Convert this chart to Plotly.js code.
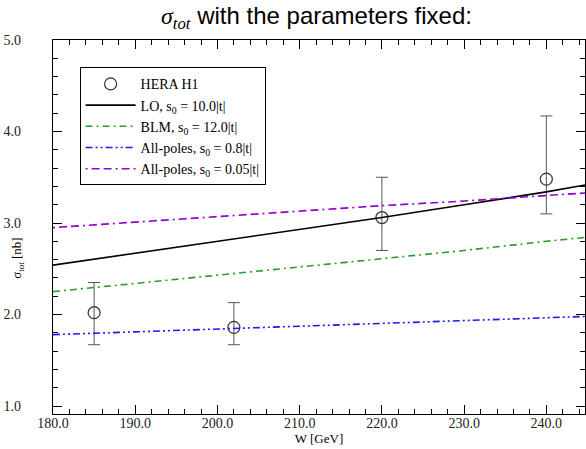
<!DOCTYPE html>
<html>
<head>
<meta charset="utf-8">
<script src="https://cdn.plot.ly/plotly-3.0.1.min.js"></script>
<style>
  html, body { margin: 0; padding: 0; background: #fff; }
  #chart { width: 586px; height: 449px; }
</style>
</head>
<body>
<div id="chart"></div>
<script>
// HERA H1 measurements of the total cross section
const dataW = [185.0, 202.0, 220.0, 240.0];
const dataSigma = [2.02, 1.86, 3.06, 3.48];
const dataErrPlus = [0.33, 0.27, 0.44, 0.69];
const dataErrMinus = [0.35, 0.19, 0.36, 0.38];

// Model curves evaluated on a W grid
const curveW = [180, 190, 200, 210, 220, 230, 240, 245];
const sigmaLO = [2.54, 2.67, 2.80, 2.93, 3.06, 3.20, 3.34, 3.42];
const sigmaBLM = [2.25, 2.34, 2.43, 2.52, 2.61, 2.70, 2.80, 2.845];
const sigmaPoles08 = [1.78, 1.81, 1.845, 1.875, 1.90, 1.93, 1.96, 1.98];
const sigmaPoles005 = [2.95, 3.01, 3.07, 3.13, 3.19, 3.24, 3.30, 3.33];

const seriesNames = [
  'HERA H1',
  'LO, s<sub>0</sub> = 10.0|t|',
  'BLM, s<sub>0</sub> = 12.0|t|',
  'All-poles, s<sub>0</sub> = 0.8|t|',
  'All-poles, s<sub>0</sub> = 0.05|t|'
];

const serif = 'Liberation Serif, Times New Roman, serif';

const traces = [
  {
    x: dataW, y: dataSigma, name: seriesNames[0], type: 'scatter', mode: 'markers',
    marker: { symbol: 'circle-open', size: 12, color: '#333', line: { width: 1.2, color: '#333' } },
    error_y: { type: 'data', symmetric: false, array: dataErrPlus, arrayminus: dataErrMinus,
               color: '#555', thickness: 1, width: 6 }
  },
  {
    x: curveW, y: sigmaLO, name: seriesNames[1], type: 'scatter', mode: 'lines',
    line: { color: '#000', width: 1.6 }
  },
  {
    x: curveW, y: sigmaBLM, name: seriesNames[2], type: 'scatter', mode: 'lines',
    line: { color: '#2e9a2e', width: 1.6, dash: '7px,4px,2px,4px' }
  },
  {
    x: curveW, y: sigmaPoles08, name: seriesNames[3], type: 'scatter', mode: 'lines',
    line: { color: '#1a1aff', width: 1.6, dash: '7px,3px,2px,3px,2px,3px' }
  },
  {
    x: curveW, y: sigmaPoles005, name: seriesNames[4], type: 'scatter', mode: 'lines',
    line: { color: '#9400d3', width: 1.6, dash: '2px,4px,8px,4px,8px,4px' }
  }
];

const axisCommon = {
  showgrid: false, zeroline: false, showline: true, linecolor: '#000', linewidth: 1.2,
  mirror: 'ticks', ticks: 'inside', ticklen: 9, tickwidth: 1, tickcolor: '#000',
  tickformat: '.1f', tickfont: { family: serif, size: 14, color: '#222' }
};

const layout = {
  width: 586, height: 449,
  margin: { l: 53, r: 1, t: 40, b: 35 },
  paper_bgcolor: '#fff', plot_bgcolor: '#fff',
  showlegend: true,
  title: {
    text: '<span style="font-family:Liberation Serif, serif"><i>σ</i><sub><i>tot</i></sub></span> with the parameters fixed:',
    font: { family: 'Liberation Sans, Arial, sans-serif', size: 24, color: '#000' },
    x: 0.54, xanchor: 'center', y: 0.965, yanchor: 'middle'
  },
  xaxis: Object.assign({}, axisCommon, {
    range: [180, 244.7], dtick: 10, tick0: 180,
    minor: { dtick: 2, ticks: 'inside', ticklen: 5, tickcolor: '#000' },
    ticklabelstandoff: -4,
    title: { text: 'W [GeV]', font: { family: serif, size: 13, color: '#000' }, standoff: 0 }
  }),
  yaxis: Object.assign({}, axisCommon, {
    range: [0.913, 5.0], dtick: 1, tick0: 1,
    minor: { dtick: 0.2, ticks: 'inside', ticklen: 5, tickcolor: '#000' },
    ticklabelstandoff: 28
  }),
  annotations: [{
    text: 'σ<sub>tot</sub> [nb]', textangle: -90, showarrow: false,
    xref: 'paper', yref: 'paper', x: -0.068, y: 0.417, xanchor: 'center', yanchor: 'middle',
    font: { family: serif, size: 13, color: '#000' }
  }],
  legend: {
    x: 0.05, xanchor: 'left', y: 0.927, yanchor: 'top',
    bgcolor: '#fff', bordercolor: '#000', borderwidth: 1,
    font: { family: serif, size: 14, color: '#000' },
    tracegroupgap: 0, itemwidth: 50
  }
};

Plotly.newPlot('chart', traces, layout, { displayModeBar: false, staticPlot: true });
</script>
</body>
</html>
